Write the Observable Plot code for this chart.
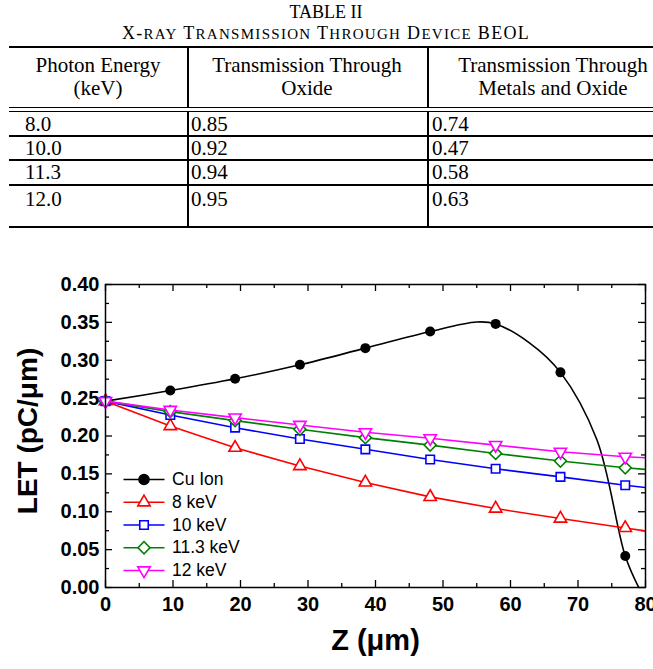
<!DOCTYPE html>
<html>
<head>
<meta charset="utf-8">
<script src="https://cdn.jsdelivr.net/npm/d3@7"></script>
<script src="https://cdn.jsdelivr.net/npm/@observablehq/plot@0.6"></script>
<style>
  html, body { margin: 0; padding: 0; background: #fff; }
  body { width: 653px; height: 669px; overflow: hidden; position: relative; }
  #table { position: absolute; left: 0; top: 0; width: 653px; height: 240px; overflow: hidden;
           font-family: "Liberation Serif", "Times New Roman", serif; color: #000; }
  #table .t { position: absolute; white-space: nowrap; line-height: 22px; }
  #table .rule { position: absolute; background: #000; }
  #table .sc { font-size: 15px; }
  #chart { position: absolute; left: 0; top: 240px; }
</style>
</head>
<body>
<div id="table"></div>
<div id="chart"></div>
<script>
// ---- Table II: X-ray transmission through device BEOL ----
const tableTitle = "TABLE II";
const tableCaption = "X-ray Transmission Through Device BEOL";
const headerCol1 = ["Photon Energy", "(keV)"];
const headerCol2 = ["Transmission Through", "Oxide"];
const headerCol3 = ["Transmission Through", "Metals and Oxide"];
const photonEnergy = ["8.0", "10.0", "11.3", "12.0"];
const oxideTransmission = ["0.85", "0.92", "0.94", "0.95"];
const metalOxideTransmission = ["0.74", "0.47", "0.58", "0.63"];

// ---- Figure: LET versus depth Z ----
const zLine = [0, 9.6, 19.2, 28.8, 38.5, 48.1, 57.8, 67.4, 77.0, 80];
const let8keV   = [0.246, 0.2132, 0.1845, 0.1603, 0.1387, 0.1196, 0.1042, 0.0910, 0.0786, 0.0746];
const let10keV  = [0.246, 0.2278, 0.2110, 0.1960, 0.1824, 0.1690, 0.1567, 0.1460, 0.1350, 0.1320];
const let113keV = [0.246, 0.2322, 0.2203, 0.2089, 0.1978, 0.1880, 0.1770, 0.1669, 0.1580, 0.1559];
const let12keV  = [0.246, 0.2344, 0.2243, 0.2146, 0.2049, 0.1970, 0.1880, 0.1792, 0.1726, 0.1713];
const markerCount = 9; // symbols at every sample except the z = 80 end point

// Cu ion: smooth curve samples and the marked points
const cuCurveZ   = [0, 9.6, 19.2, 28.8, 38.5, 48.1, 55.0, 57.8, 62.8, 67.4, 72.8, 77.0, 79.0];
const cuCurveLET = [0.246, 0.260, 0.2755, 0.294, 0.316, 0.338, 0.3505, 0.348, 0.323, 0.284, 0.195, 0.0415, 0.0];
const cuMarkZ    = [9.6, 19.2, 28.8, 38.5, 48.1, 57.8, 67.4, 77.0];
const cuMarkLET  = [0.260, 0.2755, 0.294, 0.316, 0.338, 0.348, 0.284, 0.0415];

const seriesNames   = ["Cu Ion", "8 keV", "10 keV", "11.3 keV", "12 keV"];
const seriesColors  = ["#000000", "#ff0000", "#0000ff", "#008000", "#ff00ff"];
const seriesSymbols = ["circle", "triangle", "square", "square", "triangle"];
const seriesRotate  = [0, 0, 0, 45, 180];
const seriesRadius  = [5, 4.6, 4.8, 4.8, 4.6];

const xTicks = [0, 10, 20, 30, 40, 50, 60, 70, 80];
const xMinor = [5, 15, 25, 35, 45, 55, 65, 75];
const yTicks = [0, 0.05, 0.10, 0.15, 0.20, 0.25, 0.30, 0.35, 0.40];
const yMinor = [0.025, 0.075, 0.125, 0.175, 0.225, 0.275, 0.325, 0.375];
const xLabel = "Z (μm)";
const yLabel = "LET (pC/μm)";

// ---------- build the table ----------
const tbl = document.getElementById("table");
function addText(str, left, top, opts = {}) {
  const el = document.createElement("div");
  el.className = "t";
  el.style.top = (top - 11) + "px";
  el.style.fontSize = (opts.size || 21) + "px";
  if (opts.center) { el.style.left = (left - 250) + "px"; el.style.width = "500px"; el.style.textAlign = "center"; }
  else el.style.left = left + "px";
  if (opts.smallCaps) {
    // small capitals: first letter of each word full size, the rest smaller
    el.style.letterSpacing = "1.3px";
    str.split(" ").forEach((word, wi) => {
      if (wi > 0) el.appendChild(document.createTextNode(" "));
      if (word === word.toUpperCase()) { el.appendChild(document.createTextNode(word)); return; }
      const m = word.match(/^([^a-z]+)(.*)$/);
      el.appendChild(document.createTextNode(m[1]));
      const sm = document.createElement("span");
      sm.className = "sc";
      sm.textContent = m[2].toUpperCase();
      el.appendChild(sm);
    });
  } else {
    el.textContent = str;
  }
  tbl.appendChild(el);
}
function addRule(x, y, w, h) {
  const el = document.createElement("div");
  el.className = "rule";
  Object.assign(el.style, { left: x + "px", top: y + "px", width: w + "px", height: h + "px" });
  tbl.appendChild(el);
}
addText(tableTitle, 326, 12, { center: true, size: 18 });
addText(tableCaption, 326, 33, { center: true, size: 18, smallCaps: true });

const colEdges = [9, 187, 427, 680];
const colCenters = [98, 307, 553];
const colTextLeft = [25, 191, 432];
[headerCol1, headerCol2, headerCol3].forEach((lines, c) => {
  lines.forEach((ln, i) => addText(ln, colCenters[c], 65 + i * 23, { center: true }));
});
const rowCenters = [124, 147.5, 171.5, 198.5];
const rowRules = [135, 159, 184];
photonEnergy.forEach((e, i) => {
  addText(e, colTextLeft[0], rowCenters[i]);
  addText(oxideTransmission[i], colTextLeft[1], rowCenters[i]);
  addText(metalOxideTransmission[i], colTextLeft[2], rowCenters[i]);
});
// horizontal rules
addRule(colEdges[0], 45.5, 700, 2);
addRule(colEdges[0], 106.5, 700, 1.5);
addRule(colEdges[0], 110.5, 700, 1.5);
rowRules.forEach(y => addRule(colEdges[0], y, 700, 1.5));
addRule(colEdges[0], 225.5, 700, 2);
// vertical separators
[colEdges[1], colEdges[2]].forEach(x => {
  addRule(x, 46, 1.5, 61);
  addRule(x, 111, 1.5, 115);
});

// ---------- build the chart ----------
const W = 653, H = 429;
const mL = 105, mR = 8, mT = 44, mB = 82;
const fw = W - mL - mR, fh = H - mT - mB;

const xraySeries = [let8keV, let10keV, let113keV, let12keV];
const rows = (arr) => zLine.map((z, i) => ({ z, v: arr[i], i }));
const cuCurve = cuCurveZ.map((z, i) => ({ z, v: cuCurveLET[i] }));
const cuMarks = cuMarkZ.map((z, i) => ({ z, v: cuMarkLET[i] }));

const lineSymbol = { draw(ctx) { ctx.moveTo(-20.5, 0); ctx.lineTo(20.5, 0); } };

const marks = [];
// inward ticks on all four sides
const tickLen = (major) => major ? 7 : 4;
[[yTicks, true], [yMinor, false]].forEach(([vals, major]) => {
  marks.push(Plot.tickY(vals, { y: d => d, insetRight: fw - tickLen(major), strokeWidth: 1.3 }));
  marks.push(Plot.tickY(vals, { y: d => d, insetLeft: fw - tickLen(major), strokeWidth: 1.3 }));
});
[[xTicks, true], [xMinor, false]].forEach(([vals, major]) => {
  marks.push(Plot.tickX(vals, { x: d => d, insetTop: fh - tickLen(major), strokeWidth: 1.3 }));
  marks.push(Plot.tickX(vals, { x: d => d, insetBottom: fh - tickLen(major), strokeWidth: 1.3 }));
});

// Cu ion
marks.push(Plot.line(cuCurve, { x: "z", y: "v", stroke: seriesColors[0], strokeWidth: 1.6, curve: "catmull-rom", clip: true }));
marks.push(Plot.dot(cuMarks, { x: "z", y: "v", r: seriesRadius[0], fill: seriesColors[0], symbol: seriesSymbols[0] }));

// X-ray photon energies
xraySeries.forEach((arr, k) => {
  const s = k + 1;
  const data = rows(arr);
  marks.push(Plot.line(data, { x: "z", y: "v", stroke: seriesColors[s], strokeWidth: 1.6, clip: true }));
  marks.push(Plot.dot(data.filter(d => d.i < markerCount), {
    x: "z", y: "v", r: seriesRadius[s], symbol: seriesSymbols[s], rotate: seriesRotate[s],
    stroke: seriesColors[s], fill: "white", strokeWidth: 1.6
  }));
});

// legend inside the frame, lower left
seriesNames.forEach((name, s) => {
  const dy = -108 + s * 22.75;
  marks.push(Plot.dot([name], { frameAnchor: "bottom-left", dx: 38.5, dy, symbol: lineSymbol, stroke: seriesColors[s], strokeWidth: 1.6 }));
  marks.push(Plot.dot([name], {
    frameAnchor: "bottom-left", dx: 38.5, dy, r: seriesRadius[s], symbol: seriesSymbols[s], rotate: seriesRotate[s],
    stroke: seriesColors[s], fill: s === 0 ? seriesColors[s] : "white", strokeWidth: 1.6
  }));
  marks.push(Plot.text([name], {
    frameAnchor: "bottom-left", dx: 66.5, dy, text: d => d, textAnchor: "start", lineAnchor: "middle",
    fontSize: 17.5, fontWeight: "normal", fill: "black"
  }));
});

marks.push(Plot.frame({ strokeWidth: 1.5 }));
marks.push(Plot.axisY({ ticks: yTicks, tickSize: 0, tickPadding: 6, tickFormat: d3.format(".2f"), label: null, fontSize: 20, fontWeight: "bold" }));
marks.push(Plot.axisX({ ticks: xTicks, tickSize: 0, tickPadding: 9, tickFormat: d3.format("d"), label: null, fontSize: 20, fontWeight: "bold" }));
marks.push(Plot.text([xLabel], { frameAnchor: "bottom", dy: 53, text: d => d, textAnchor: "middle", lineAnchor: "middle", fontSize: 29, fontWeight: "bold" }));
marks.push(Plot.text([yLabel], { frameAnchor: "left", dx: -77, dy: -5, rotate: -90, text: d => d, textAnchor: "middle", lineAnchor: "middle", fontSize: 28, fontWeight: "bold" }));

const chart = Plot.plot({
  width: W, height: H,
  marginLeft: mL, marginRight: mR, marginTop: mT, marginBottom: mB,
  style: { fontFamily: "'Liberation Sans', Arial, sans-serif", color: "#000", background: "transparent", overflow: "visible" },
  x: { domain: [0, 80] },
  y: { domain: [0, 0.40] },
  marks
});
document.getElementById("chart").appendChild(chart);
</script>
</body>
</html>
